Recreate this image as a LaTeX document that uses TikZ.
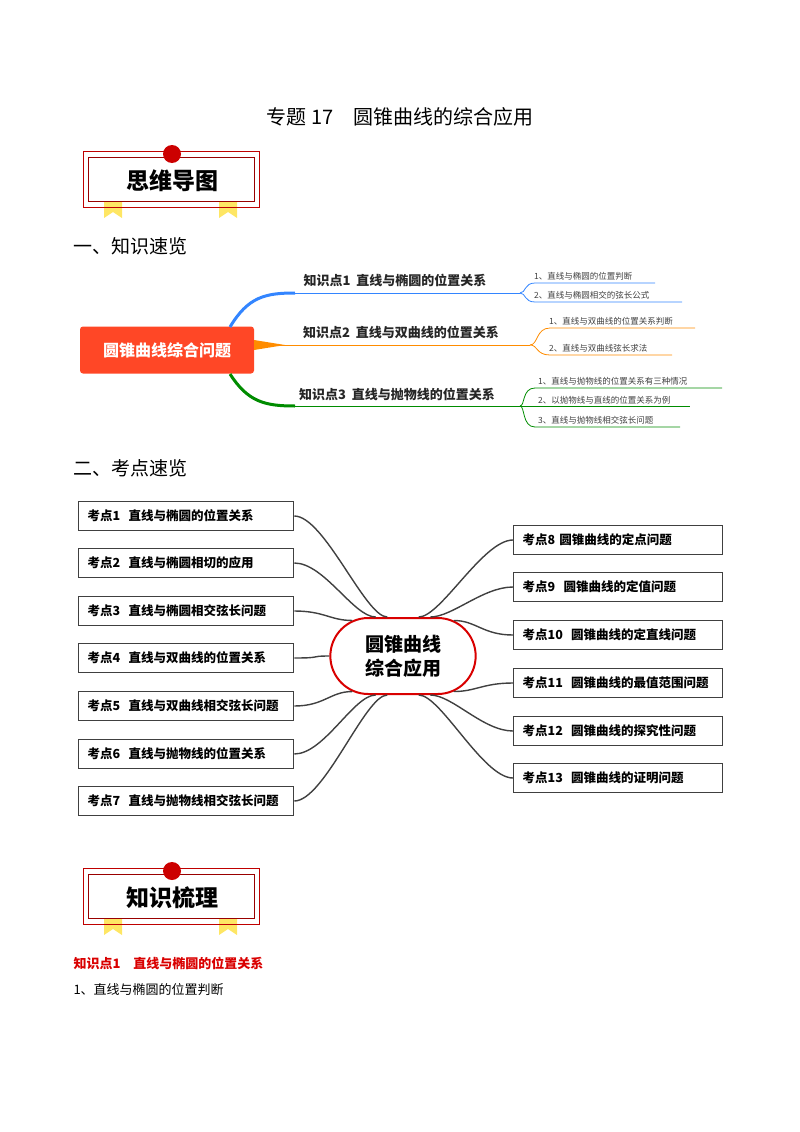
\documentclass[tikz,border=0pt]{standalone}
\usepackage{fontspec}
\setmainfont{Noto Sans CJK SC}
\usetikzlibrary{shapes.misc,calc}
\begin{document}
\begin{tikzpicture}[x=1pt,y=-1pt,
  kbox/.style={draw=black!75,line width=1.3pt,minimum width=215pt,minimum height=29pt,anchor=west,inner xsep=9pt,text width=197pt,align=left,font=\bfseries\fontsize{12.5}{14}\selectfont},
  con/.style={draw=black!75,line width=1.4pt},
  sub/.style={font=\fontsize{8.5}{10}\selectfont,text=black!75,anchor=south west,inner sep=1pt},
  kp/.style={font=\bfseries\fontsize{13}{15}\selectfont,text=black!85}]
\useasboundingbox (0,0) rectangle (800,1132);
\node (title) at (400,117) {\fontsize{20}{22}\selectfont 专题 17\quad 圆锥曲线的综合应用};
% banners
\foreach \yy/\txt/\nm in {151/思维导图/ba,868/知识梳理/bb}{
 \begin{scope}[yshift=-\yy]
 \fill[yellow!75!orange!60] (104,47) -- (122,47) -- (122,67) -- (113,61) -- (104,67) -- cycle;
 \fill[yellow!75!orange!60] (219,47) -- (237,47) -- (237,67) -- (228,61) -- (219,67) -- cycle;
 \draw[red!75!black,line width=1pt] (83,0) rectangle (259,56);
 \fill[white] (88.3,6.3) rectangle (253.7,49.7);
 \draw[red!60!black,line width=0.6pt] (88,6) rectangle (254,50);
 \fill[red!80!black] (172,3) circle (9);
 \node (\nm) at (172,30) {\bfseries\fontsize{23}{26}\selectfont \txt};
 \end{scope}}
\node[anchor=west] (h1) at (70,246) {\fontsize{19}{21}\selectfont 一、知识速览};
\node[anchor=west] (h2) at (70,468) {\fontsize{19}{21}\selectfont 二、考点速览};
% mind map 1
\node[fill=red!70!orange!85,text=white,rounded corners=3pt,minimum width=174pt,minimum height=47pt,font=\bfseries\fontsize{16}{18}\selectfont] (root) at (167,350) {圆锥曲线综合问题};
\coordinate (b1) at (520,293); \coordinate (b2) at (530,345); \coordinate (b3) at (520,406);
\draw[blue!60!cyan!80,line width=3pt] (230,327) .. controls (248,297) and (265,293) .. (295,293);
\draw[blue!60!cyan!80,line width=1pt] (295,293) -- (b1);
\fill[orange!90!yellow] (254,340) -- (285,345) -- (254,350) -- cycle;
\draw[orange!90!yellow,line width=1pt] (254,345) -- (b2);
\draw[green!55!black,line width=3pt] (230,374) .. controls (248,402) and (265,406) .. (295,406);
\draw[green!55!black,line width=1pt] (295,406) -- (b3);
\node[kp] (k1) at (395,280) {知识点1\ \ 直线与椭圆的位置关系};
\node[kp] (k2) at (401,332) {知识点2\ \ 直线与双曲线的位置关系};
\node[kp] (k3) at (397,394) {知识点3\ \ 直线与抛物线的位置关系};
% sub branches
\begin{scope}[blue!60!cyan!80,line width=0.8pt]
\draw (b1) .. controls (526,293) and (524,283) .. (535,283) -- (655,283);
\draw (b1) .. controls (526,293) and (524,302) .. (535,302) -- (682,302);
\end{scope}
\begin{scope}[orange!90!yellow,line width=0.8pt]
\draw (b2) .. controls (538,345) and (536,328) .. (550,328) -- (695,328);
\draw (b2) .. controls (538,345) and (536,355) .. (550,355) -- (672,355);
\end{scope}
\begin{scope}[green!55!black,line width=0.8pt]
\draw (b3) .. controls (525,406) and (522,388) .. (535,388) -- (722,388);
\draw (b3) -- (690,406);
\draw (b3) .. controls (525,406) and (522,427) .. (535,427) -- (680,427);
\end{scope}
\node[sub] (s11) at (533,281) {1、直线与椭圆的位置判断};
\node[sub] (s12) at (533,300) {2、直线与椭圆相交的弦长公式};
\node[sub] (s21) at (548,326) {1、直线与双曲线的位置关系判断};
\node[sub] (s22) at (548,353) {2、直线与双曲线弦长求法};
\node[sub] (s31) at (537,386) {1、直线与抛物线的位置关系有三种情况};
\node[sub] (s32) at (537,405) {2、以抛物线与直线的位置关系为例};
\node[sub] (s33) at (537,425) {3、直线与抛物线相交弦长问题};
% mind map 2
\node[draw=red!85!black,line width=2pt,rounded rectangle,minimum width=152pt,minimum height=76pt,font=\bfseries\fontsize{19}{24}\selectfont,align=center,fill=white] (cn) at (403,656) {圆锥曲线\\综合应用};
\foreach \i/\y/\t/\a in {1/516/考点1\ \ 直线与椭圆的位置关系/112,2/563/考点2\ \ 直线与椭圆相切的应用/125,3/611/考点3\ \ 直线与椭圆相交弦长问题/145,4/658/考点4\ \ 直线与双曲线的位置关系/180,5/706/考点5\ \ 直线与双曲线相交弦长问题/215,6/754/考点6\ \ 直线与抛物线的位置关系/235,7/801/考点7\ \ 直线与抛物线相交弦长问题/248}{
 \node[kbox] (L\i) at (78,\y) {\t};
 \draw[con] (L\i.east) .. controls +(30,0) and ($(cn.\a)+(-22,0)$) .. (cn.\a);}
\foreach \i/\y/\t/\a in {8/540/考点8 圆锥曲线的定点问题/68,9/587/考点9\ \ 圆锥曲线的定值问题/55,10/635/考点10\ \ 圆锥曲线的定直线问题/35,11/683/考点11\ \ 圆锥曲线的最值范围问题/-35,12/731/考点12\ \ 圆锥曲线的探究性问题/-55,13/778/考点13\ \ 圆锥曲线的证明问题/-68}{
 \node[kbox,minimum width=209pt,text width=191pt] (R\i) at (513,\y) {\t};
 \draw[con] (R\i.west) .. controls +(-30,0) and ($(cn.\a)+(22,0)$) .. (cn.\a);}
\node[anchor=west,text=red!85!black,font=\bfseries\fontsize{13}{15}\selectfont] (kz) at (70,963) {知识点1\quad 直线与椭圆的位置关系};
\node[anchor=west,font=\fontsize{13}{15}\selectfont] (l1) at (70,990) {1、直线与椭圆的位置判断};
\end{tikzpicture}
\end{document}
